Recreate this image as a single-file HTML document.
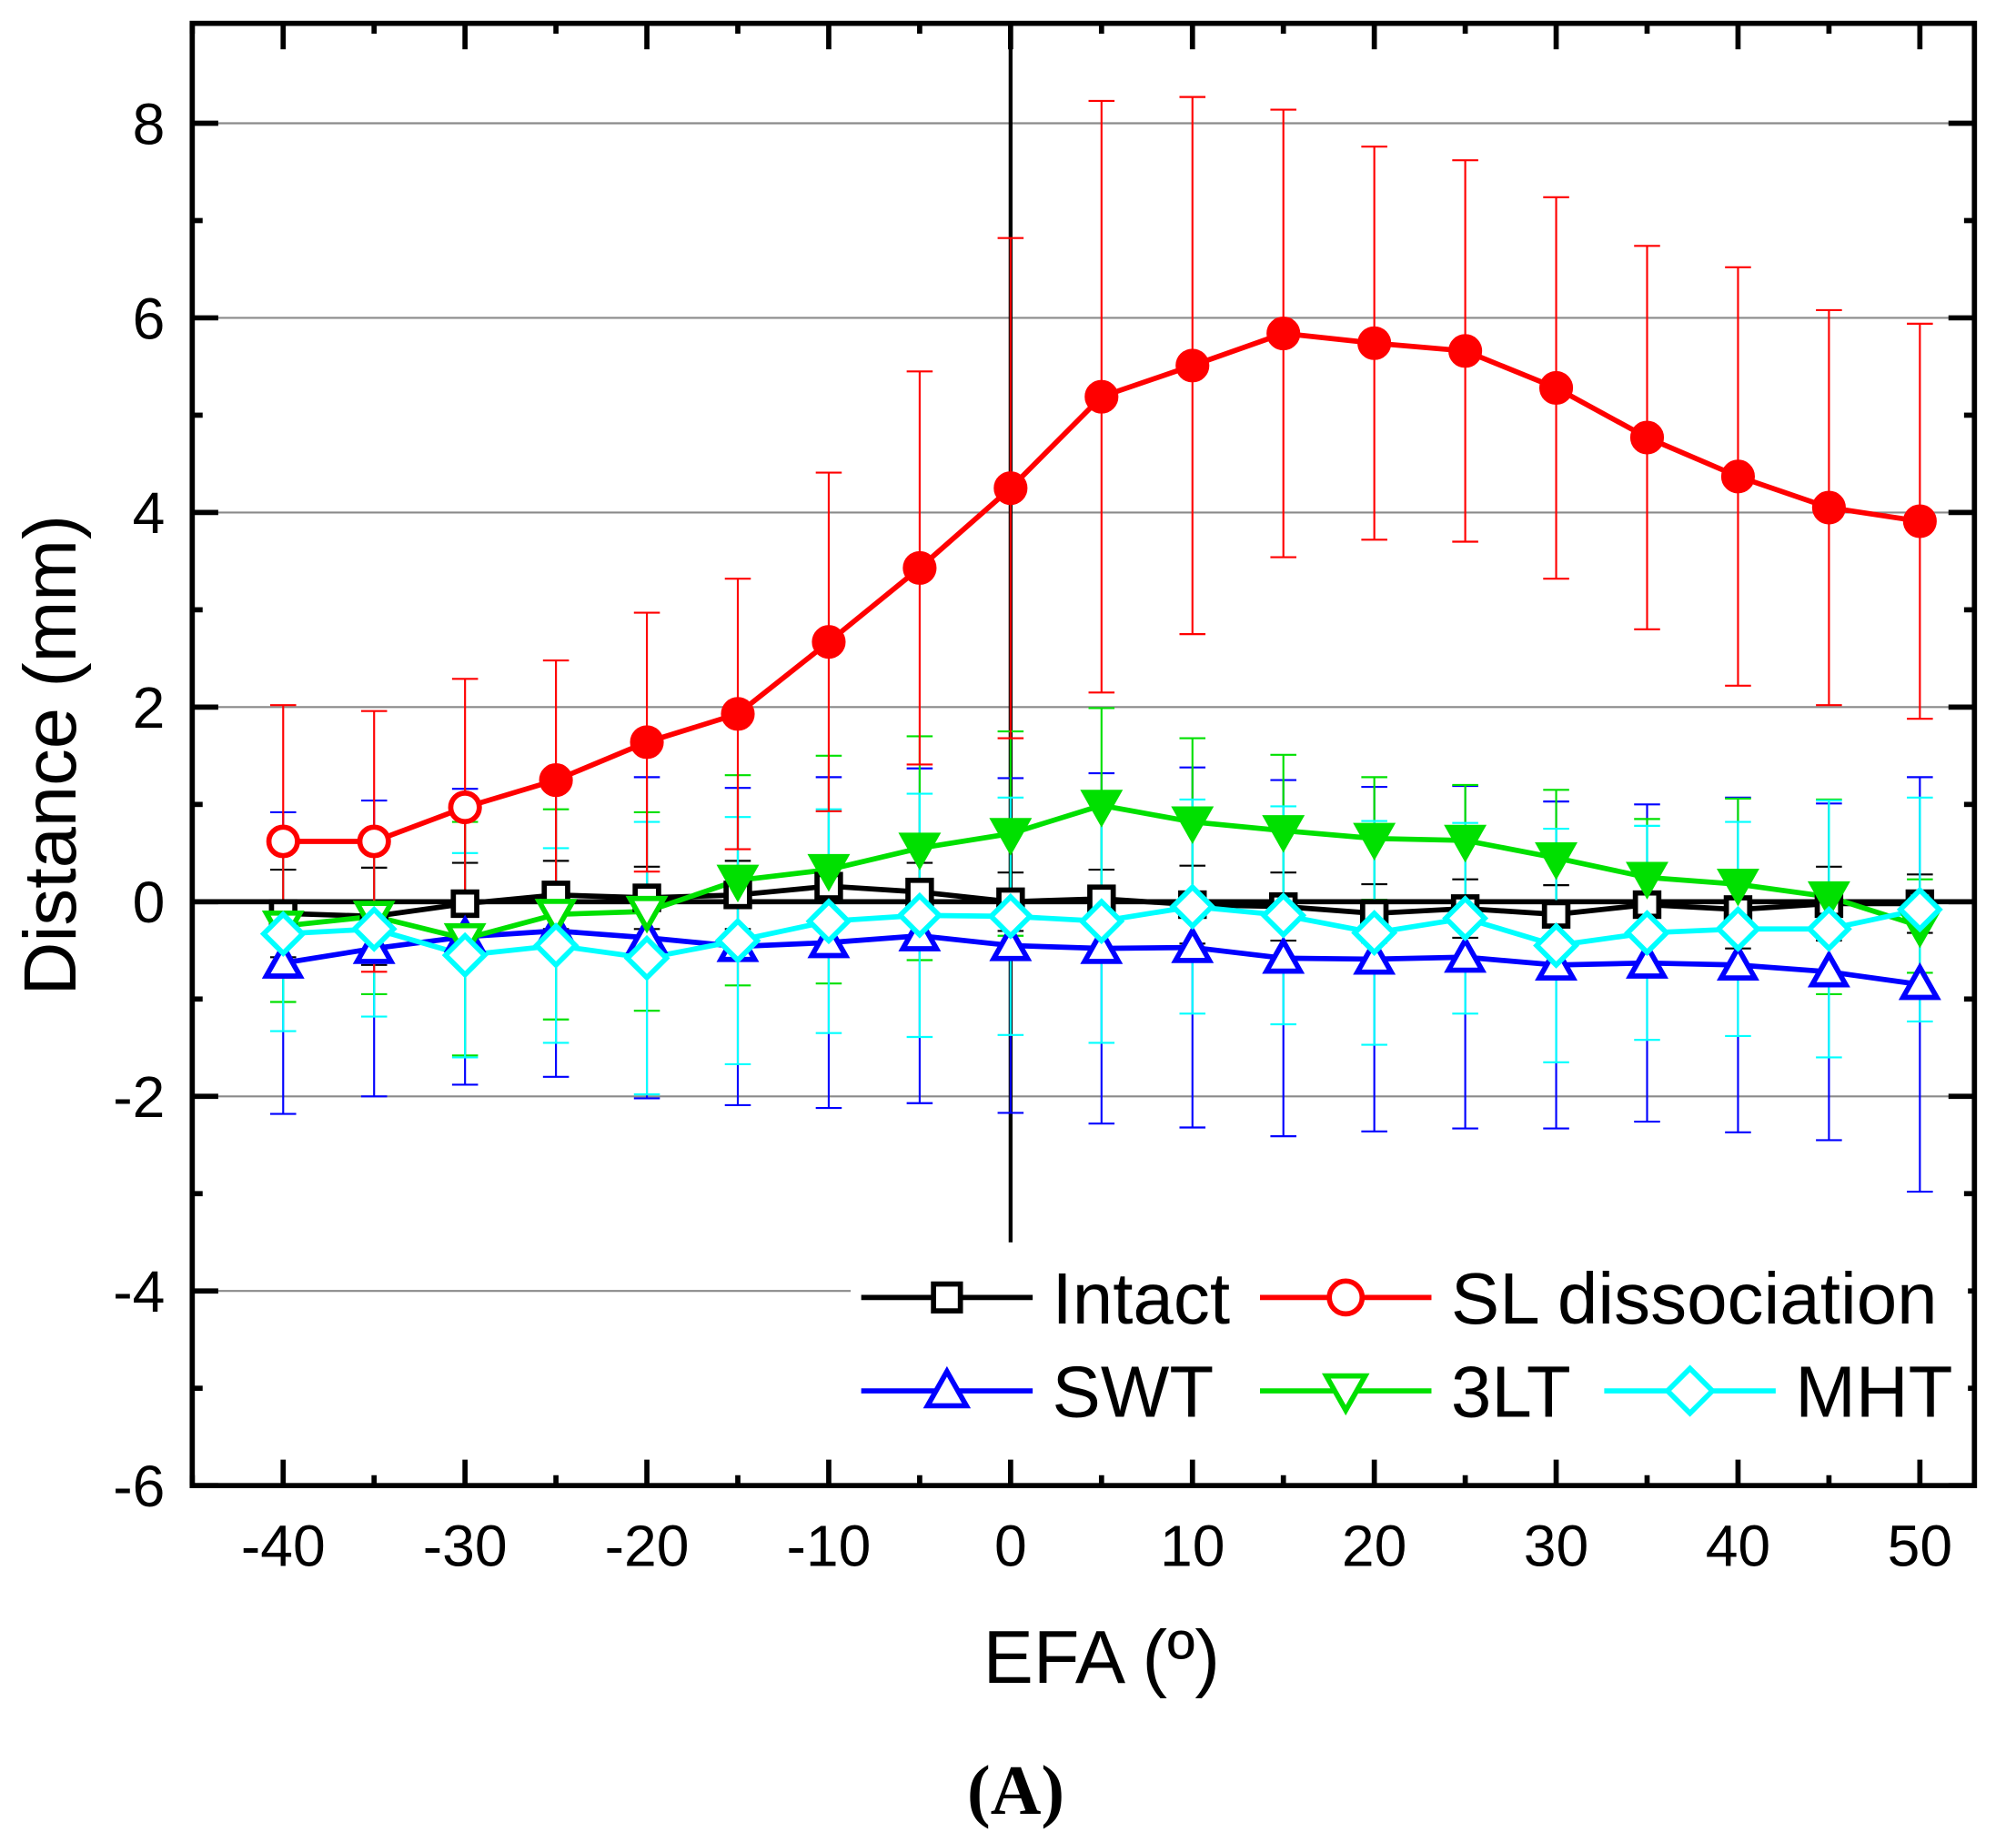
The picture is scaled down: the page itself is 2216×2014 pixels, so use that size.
<!DOCTYPE html>
<html><head><meta charset="utf-8"><style>
html,body{margin:0;padding:0;background:#fff}
svg{display:block}
</style></head><body>
<svg id="chart" width="2216" height="2014" viewBox="0 0 1552 1412" preserveAspectRatio="none" xmlns="http://www.w3.org/2000/svg" font-family="Liberation Sans, sans-serif">
<g id="grid"></g><g id="axes"></g><g id="errs"></g><g id="lines"></g><g id="marks"></g><g id="legend"></g>
</svg>
<script>
const xs = [-40,-35,-30,-25,-20,-15,-10,-5,0,5,10,15,20,25,30,35,40,45,50];
const slVals = [0.62,0.62,0.97,1.25,1.64,1.93,2.67,3.43,4.25,5.19,5.51,5.84,5.74,5.66,5.28,4.77,4.37,4.05,3.91];
const slErr = [1.40,1.34,1.32,1.23,1.33,1.39,1.74,2.02,2.57,3.04,2.76,2.30,2.02,1.96,1.96,1.97,2.15,2.03,2.03];
const intactVals = [-0.12,-0.15,-0.02,0.07,0.04,0.07,0.16,0.10,0.00,0.03,-0.03,-0.05,-0.12,-0.07,-0.13,-0.03,-0.08,-0.02,-0.02];
const intactErr = [0.45,0.5,0.42,0.35,0.32,0.35,0.3,0.3,0.3,0.3,0.4,0.35,0.3,0.3,0.3,0.35,0.4,0.38,0.3];
const swtVals = [-0.63,-0.48,-0.36,-0.30,-0.37,-0.46,-0.42,-0.35,-0.45,-0.48,-0.47,-0.58,-0.59,-0.57,-0.65,-0.63,-0.65,-0.72,-0.85];
const swtErr = [1.55,1.52,1.52,1.5,1.65,1.63,1.7,1.72,1.72,1.8,1.85,1.83,1.77,1.76,1.68,1.63,1.72,1.73,2.13];
const tltVals = [-0.25,-0.15,-0.38,-0.13,-0.10,0.22,0.33,0.55,0.70,0.99,0.82,0.73,0.65,0.63,0.45,0.25,0.18,0.05,-0.25];
const tltErr = [0.78,0.8,1.2,1.08,1.02,1.08,1.17,1.15,1.05,1.0,0.86,0.78,0.63,0.57,0.7,0.6,0.88,1.0,0.48];
const mhtVals = [-0.33,-0.28,-0.55,-0.45,-0.58,-0.40,-0.20,-0.14,-0.15,-0.20,-0.05,-0.14,-0.32,-0.17,-0.45,-0.32,-0.28,-0.28,-0.08];
const mhtErr = [1.0,0.9,1.05,1.0,1.4,1.27,1.15,1.25,1.22,1.25,1.1,1.12,1.15,0.98,1.2,1.1,1.1,1.32,1.15];
const yTicks = [-6,-4,-2,0,2,4,6,8];
const xTicks = [-40,-30,-20,-10,0,10,20,30,40,50];

const NS='http://www.w3.org/2000/svg';
const L=148,R=1520,T=18,B=1145;
const X=v=>778+v*14;
const Y=v=>695-v*75;
function el(tag,attrs,parent,txt){const e=document.createElementNS(NS,tag);for(const k in attrs)e.setAttribute(k,attrs[k]);if(txt!==undefined)e.textContent=txt;document.getElementById(parent).appendChild(e);return e;}

yTicks.forEach(v=>{ if(v===0||v===-6) return;
  const g=el('line',{x1:L,x2:v===-4?655:R,y1:Y(v),y2:Y(v),stroke:'#8a8a8a','stroke-width':1.5},'grid');
  
  
});
const fr=el('rect',{x:L,y:T,width:R-L,height:B-T,fill:'none',stroke:'#000','stroke-width':4},'axes');


const z0=el('line',{x1:L,x2:R,y1:Y(0),y2:Y(0),stroke:'#000','stroke-width':4},'axes');


const v0=el('line',{x1:X(0),x2:X(0),y1:T,y2:Y(-3.5),stroke:'#000','stroke-width':3},'axes');


for(let v=-6;v<=8;v+=1){
  const major=v%2===0, len=major?20:8;
  el('line',{x1:L,x2:L+len,y1:Y(v),y2:Y(v),stroke:'#000','stroke-width':4},'axes');
  el('line',{x1:R,x2:R-len,y1:Y(v),y2:Y(v),stroke:'#000','stroke-width':4},'axes');
}
yTicks.forEach(v=>{
  const t=el('text',{x:127,y:Y(v)+16,'text-anchor':'end','font-size':45},'axes',String(v));
  
  
});
for(let v=-45;v<=50;v+=5){
  const major=v%10===0, len=major?20:8;
  el('line',{x1:X(v),x2:X(v),y1:B,y2:B-len,stroke:'#000','stroke-width':4},'axes');
  el('line',{x1:X(v),x2:X(v),y1:T,y2:T+len,stroke:'#000','stroke-width':4},'axes');
}
xTicks.forEach(v=>{
  const t=el('text',{x:X(v),y:1207,'text-anchor':'middle','font-size':45},'axes',String(v));
  
  
});
const yt=el('text',{x:0,y:0,'text-anchor':'middle','font-size':57,transform:'translate(58,582) rotate(-90)'},'axes','Distance (mm)');


const xt=el('text',{x:848,y:1297,'text-anchor':'middle','font-size':58},'axes','EFA (º)');


const pl=el('text',{x:782,y:1398,'text-anchor':'middle','font-size':54,'font-weight':'bold','font-family':'Liberation Serif, serif'},'axes','(A)');



function marker(type,cx,cy,color,fill,parent,s){
  s=s||1;let e;
  if(type==='sq') e=el('rect',{x:cx-9*s,y:cy-9*s,width:18*s,height:18*s,fill:fill,stroke:color,'stroke-width':4},parent);
  else if(type==='circ') e=el('circle',{cx:cx,cy:cy,r:11*s,fill:fill,stroke:color,'stroke-width':4},parent);
  else if(type==='up') e=el('polygon',{points:`${cx},${cy-13*s} ${cx+13*s},${cy+10*s} ${cx-13*s},${cy+10*s}`,fill:fill,stroke:color,'stroke-width':4},parent);
  else if(type==='down') e=el('polygon',{points:`${cx-13*s},${cy-10*s} ${cx+13*s},${cy-10*s} ${cx},${cy+13*s}`,fill:fill,stroke:color,'stroke-width':4},parent);
  else e=el('polygon',{points:`${cx},${cy-15*s} ${cx+15*s},${cy} ${cx},${cy+15*s} ${cx-15*s},${cy}`,fill:fill,stroke:color,'stroke-width':4},parent);
  return e;
}
const series=[
 {name:'intact',vals:intactVals,err:intactErr,color:'#000',type:'sq'},
 {name:'swt',vals:swtVals,err:swtErr,color:'#0000ff',type:'up'},
 {name:'3lt',vals:tltVals,err:tltErr,color:'#00e000',type:'down'},
 {name:'mht',vals:mhtVals,err:mhtErr,color:'#00ffff',type:'dia'},
 {name:'sl-dissociation',vals:slVals,err:slErr,color:'#ff0000',type:'circ'}
];
series.forEach(s=>{
  s.vals.forEach((v,i)=>{
    const cx=X(xs[i]),hi=Y(v+s.err[i]),lo=Y(v-s.err[i]);
    const eb=el('path',{d:`M${cx},${hi}V${lo}M${cx-10},${hi}H${cx+10}M${cx-10},${lo}H${cx+10}`,stroke:s.color,'stroke-width':1.5,fill:'none'},'errs');
    
    
  });
  const ln=el('polyline',{points:s.vals.map((v,i)=>X(xs[i])+','+Y(v)).join(' '),fill:'none',stroke:s.color,'stroke-width':4},'lines');
  
  
  s.vals.forEach((v,i)=>{
    let fill='#fff';
    if(s.name==='sl-dissociation'&&xs[i]>=-25) fill='#ff0000';
    if(s.name==='3lt'&&xs[i]>=-15) fill='#00e000';
    const m=marker(s.type,X(xs[i]),Y(v),s.color,fill,'marks');
    
    
  });
});
const lb=el('rect',{x:655,y:965,width:860,height:150,fill:'#fff'},'legend');


const leg=[
 ['intact','Intact',663,1000,'#000','sq','#fff'],
 ['sl-dissociation','SL dissociation',970,1000,'#ff0000','circ','#fff'],
 ['swt','SWT',663,1072,'#0000ff','up','#fff'],
 ['3lt','3LT',970,1072,'#00e000','down','#fff'],
 ['mht','MHT',1235,1072,'#00ffff','dia','#fff']
];
leg.forEach(([n,label,x,y,c,t,f])=>{
  const g=el('line',{x1:x,x2:x+132,y1:y,y2:y,stroke:c,'stroke-width':4},'legend');
  
  
  const m=marker(t,x+66,y,c,f,'legend',1.15);
  
  
  const tx=el('text',{x:x+147,y:y+20,'font-size':56},'legend',label);
  
  
});
</script>
</body></html>
